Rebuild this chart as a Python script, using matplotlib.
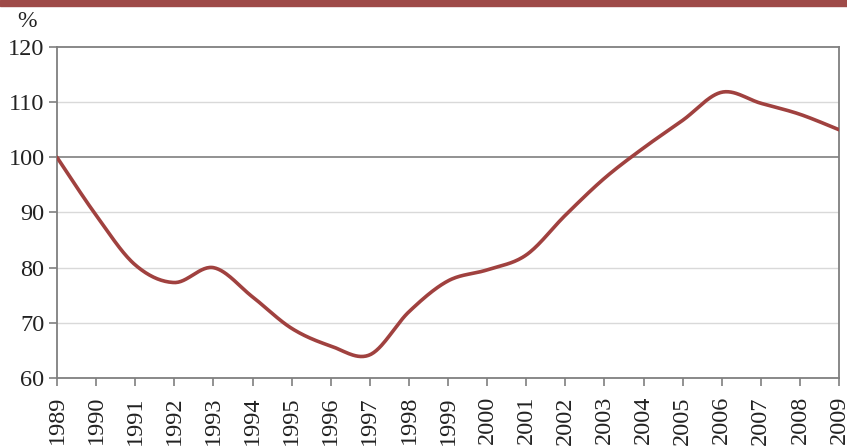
import numpy as np
import matplotlib
matplotlib.use('Agg')
import matplotlib.pyplot as plt
from matplotlib.patches import Rectangle

years = list(range(1989, 2010))
values = [100.0, 89.5, 80.5, 77.3, 80.0, 74.7, 69.0, 65.8, 64.2, 72.0, 77.6,
          79.6, 82.3, 89.5, 96.2, 101.7, 106.7, 111.8, 109.8, 107.8, 105.0]

plt.rcParams['font.family'] = ['Liberation Serif', 'DejaVu Serif']


def smooth(x, y, n=30):
    # Catmull-Rom style smoothing, like a spreadsheet "smoothed line"
    x = np.asarray(x, float)
    y = np.asarray(y, float)
    xs, ys = [], []
    for i in range(len(x) - 1):
        p0 = (x[i - 1], y[i - 1]) if i > 0 else (x[i], y[i])
        p1 = (x[i], y[i])
        p2 = (x[i + 1], y[i + 1])
        p3 = (x[i + 2], y[i + 2]) if i + 2 < len(x) else (x[i + 1], y[i + 1])
        c1 = (p1[0] + (p2[0] - p0[0]) / 6, p1[1] + (p2[1] - p0[1]) / 6)
        c2 = (p2[0] - (p3[0] - p1[0]) / 6, p2[1] - (p3[1] - p1[1]) / 6)
        t = np.linspace(0, 1, n, endpoint=(i == len(x) - 2))
        for a, b in ((0, xs), (1, ys)):
            b.extend((1 - t) ** 3 * p1[a] + 3 * (1 - t) ** 2 * t * c1[a]
                     + 3 * (1 - t) * t ** 2 * c2[a] + t ** 3 * p2[a])
    return np.array(xs), np.array(ys)


fig = plt.figure(figsize=(8.47, 4.47), dpi=100)
fig.patches.append(Rectangle((0, 0.986), 1, 0.014, transform=fig.transFigure,
                             color='#9e4a48', zorder=0))
ax = fig.add_axes([0.0673, 0.1544, 0.9233, 0.7405])

for v in [70, 80, 90, 110]:
    ax.axhline(v, color='#d9d9d9', lw=1, zorder=1)
ax.axhline(100, color='#7f7f7f', lw=1.2, zorder=1)

sx, sy = smooth(years, values)
ax.plot(sx, sy, color='#a0413f', lw=2.6, solid_capstyle='round', zorder=3)

ax.set_xlim(1989, 2009)
ax.set_ylim(60, 120)
ax.set_yticks(range(60, 121, 10))
ax.set_xticks(years)
ax.set_xticklabels([str(y) for y in years], rotation=90)
ax.tick_params(axis='both', labelsize=17.5, colors='#7f7f7f', labelcolor='#222222',
               length=6, width=1.2, direction='out', pad=3)
ax.tick_params(axis='x', pad=7)

for s in ['left', 'bottom', 'right', 'top']:
    ax.spines[s].set_color('#7f7f7f')
    ax.spines[s].set_linewidth(1.3)

fig.text(0.032, 0.952, '%', fontsize=17, color='#222222', ha='center', va='center')

fig.savefig('out.png', dpi=100)
